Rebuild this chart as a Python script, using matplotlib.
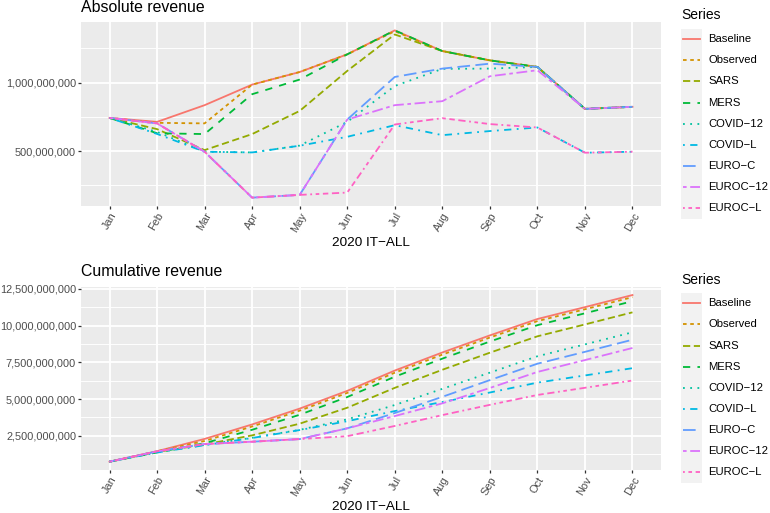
import matplotlib
matplotlib.use("Agg")
import matplotlib.pyplot as plt
from matplotlib.ticker import FuncFormatter, MultipleLocator
import numpy as np

plt.rcParams["font.family"] = ["Liberation Sans", "DejaVu Sans"]

# ── Data (monthly revenue, millions) ─────────────────────────────────────────
months = ["Jan", "Feb", "Mar", "Apr", "May", "Jun",
          "Jul", "Aug", "Sep", "Oct", "Nov", "Dec"]
series_names = ["Baseline", "Observed", "SARS", "MERS", "COVID\u221212",
                "COVID\u2212L", "EURO\u2212C", "EUROC\u221212", "EUROC\u2212L"]

baseline = [742, 713, 835, 985, 1077, 1206, 1381, 1230, 1162, 1114, 808, 823]
observed = [742, 706, 702, 985, 1077, 1206, 1375, 1230, 1162, 1114, 808, 823]
sars     = [742, 660, 507, 624, 793, 1085, 1351, 1230, 1162, 1114, 808, 823]
mers     = [742, 630, 624, 915, 1022, 1206, 1381, 1230, 1162, 1114, 808, 823]
covid_12 = [742, 640, 495, 490, 540, 713, 975, 1100, 1102, 1114, 808, 823]
covid_l  = [742, 625, 495, 490, 539, 604, 689, 616, 646, 672, 488, 495]
euro_c   = [742, 702, 495, 160, 180, 730, 1041, 1102, 1138, 1114, 808, 823]
euroc_12 = [742, 702, 495, 160, 180, 730, 835, 864, 1046, 1090, 808, 823]
euroc_l  = [742, 702, 495, 160, 180, 197, 694, 740, 697, 672, 488, 495]

all_series = [baseline, observed, sars, mers, covid_12,
              covid_l, euro_c, euroc_12, euroc_l]

# ggplot default hue palette and linetypes
colors = ["#F8766D", "#D39200", "#93AA00", "#00BA38", "#00C19F",
          "#00B9E3", "#619CFF", "#DB72FB", "#FF61C3"]
dashes = [None, (2, 2), (4, 2), (4, 4), (1, 3),
          (1, 3, 4, 3), (7, 3), (2, 2, 6, 2), (1, 2, 2, 2, 3, 2, 4, 2)]

LW = 1.3
W, H = 770, 513


def fx(px):
    return px / W


def fy(py):
    return 1 - py / H


def style_panel(ax, major, minor):
    ax.set_facecolor("#EBEBEB")
    for s in ax.spines.values():
        s.set_visible(False)
    ax.yaxis.set_major_locator(MultipleLocator(major))
    ax.yaxis.set_minor_locator(MultipleLocator(minor))
    ax.grid(which="major", color="white", linewidth=1.3)
    ax.grid(which="minor", axis="y", color="white", linewidth=0.65)
    ax.set_axisbelow(True)
    ax.tick_params(which="major", length=2.2, width=0.9, color="#333333",
                   labelsize=7.9, labelcolor="#4D4D4D", pad=1.3)
    ax.tick_params(which="minor", length=0)
    ax.yaxis.set_major_formatter(FuncFormatter(lambda v, p: f"{v:,.0f}"))
    x = np.arange(len(months))
    ax.set_xticks(x)
    ax.set_xticklabels(months, rotation=60, ha="right", va="top",
                       rotation_mode="anchor")
    ax.set_xlim(-0.6, len(months) - 1 + 0.6)


def draw_lines(ax, data):
    x = np.arange(len(months))
    for vals, c, d in zip(data, colors, dashes):
        line, = ax.plot(x, vals, color=c, linewidth=LW)
        if d is not None:
            line.set_dashes(d)
    lo = min(np.min(v) for v in data)
    hi = max(np.max(v) for v in data)
    pad = (hi - lo) * 0.05
    ax.set_ylim(lo - pad, hi + pad)


def draw_legend(fig, top_px, title_px):
    step = 21.15
    leg = fig.add_axes([fx(681), fy(top_px + step * 9), fx(21), step * 9 / H])
    leg.set_facecolor("#F2F2F2")
    leg.set_xlim(0, 1)
    leg.set_ylim(9, 0)
    leg.set_xticks([])
    leg.set_yticks([])
    for s in leg.spines.values():
        s.set_visible(False)
    for i, (name, c, d) in enumerate(zip(series_names, colors, dashes)):
        line, = leg.plot([0.08, 0.92], [i + 0.5, i + 0.5], color=c,
                         linewidth=LW)
        if d is not None:
            line.set_dashes(d)
        leg.text(1.3, i + 0.5, name, fontsize=8.1, color="black",
                 va="center", ha="left", clip_on=False)
    fig.text(fx(681), fy(title_px), "Series", fontsize=10,
             va="center", ha="left")


fig = plt.figure(figsize=(7.7, 5.13), dpi=100)
fig.patch.set_facecolor("white")

absolute = [np.array(v) * 1e6 for v in all_series]
cumulative = [np.cumsum(v) for v in absolute]

# ── Absolute revenue ─────────────────────────────────────────────────────────
ax1 = fig.add_axes([fx(81), fy(206), fx(580), 184 / H])
draw_lines(ax1, absolute)
style_panel(ax1, 5e8, 2.5e8)
ax1.set_title("Absolute revenue", loc="left", fontsize=11.4, pad=7.5)
fig.text(fx(371), fy(243), "2020 IT\u2212ALL", fontsize=9.7,
         ha="center", va="center")
draw_legend(fig, 28.5, 15)

# ── Cumulative revenue ───────────────────────────────────────────────────────
ax2 = fig.add_axes([fx(81), fy(470), fx(580), 183.3 / H])
draw_lines(ax2, cumulative)
style_panel(ax2, 2.5e9, 1.25e9)
ax2.set_title("Cumulative revenue", loc="left", fontsize=11.4, pad=7.5)
fig.text(fx(371), fy(507), "2020 IT\u2212ALL", fontsize=9.7,
         ha="center", va="center")
draw_legend(fig, 292.7, 280)

fig.savefig("out.png", dpi=100, facecolor=fig.get_facecolor())
